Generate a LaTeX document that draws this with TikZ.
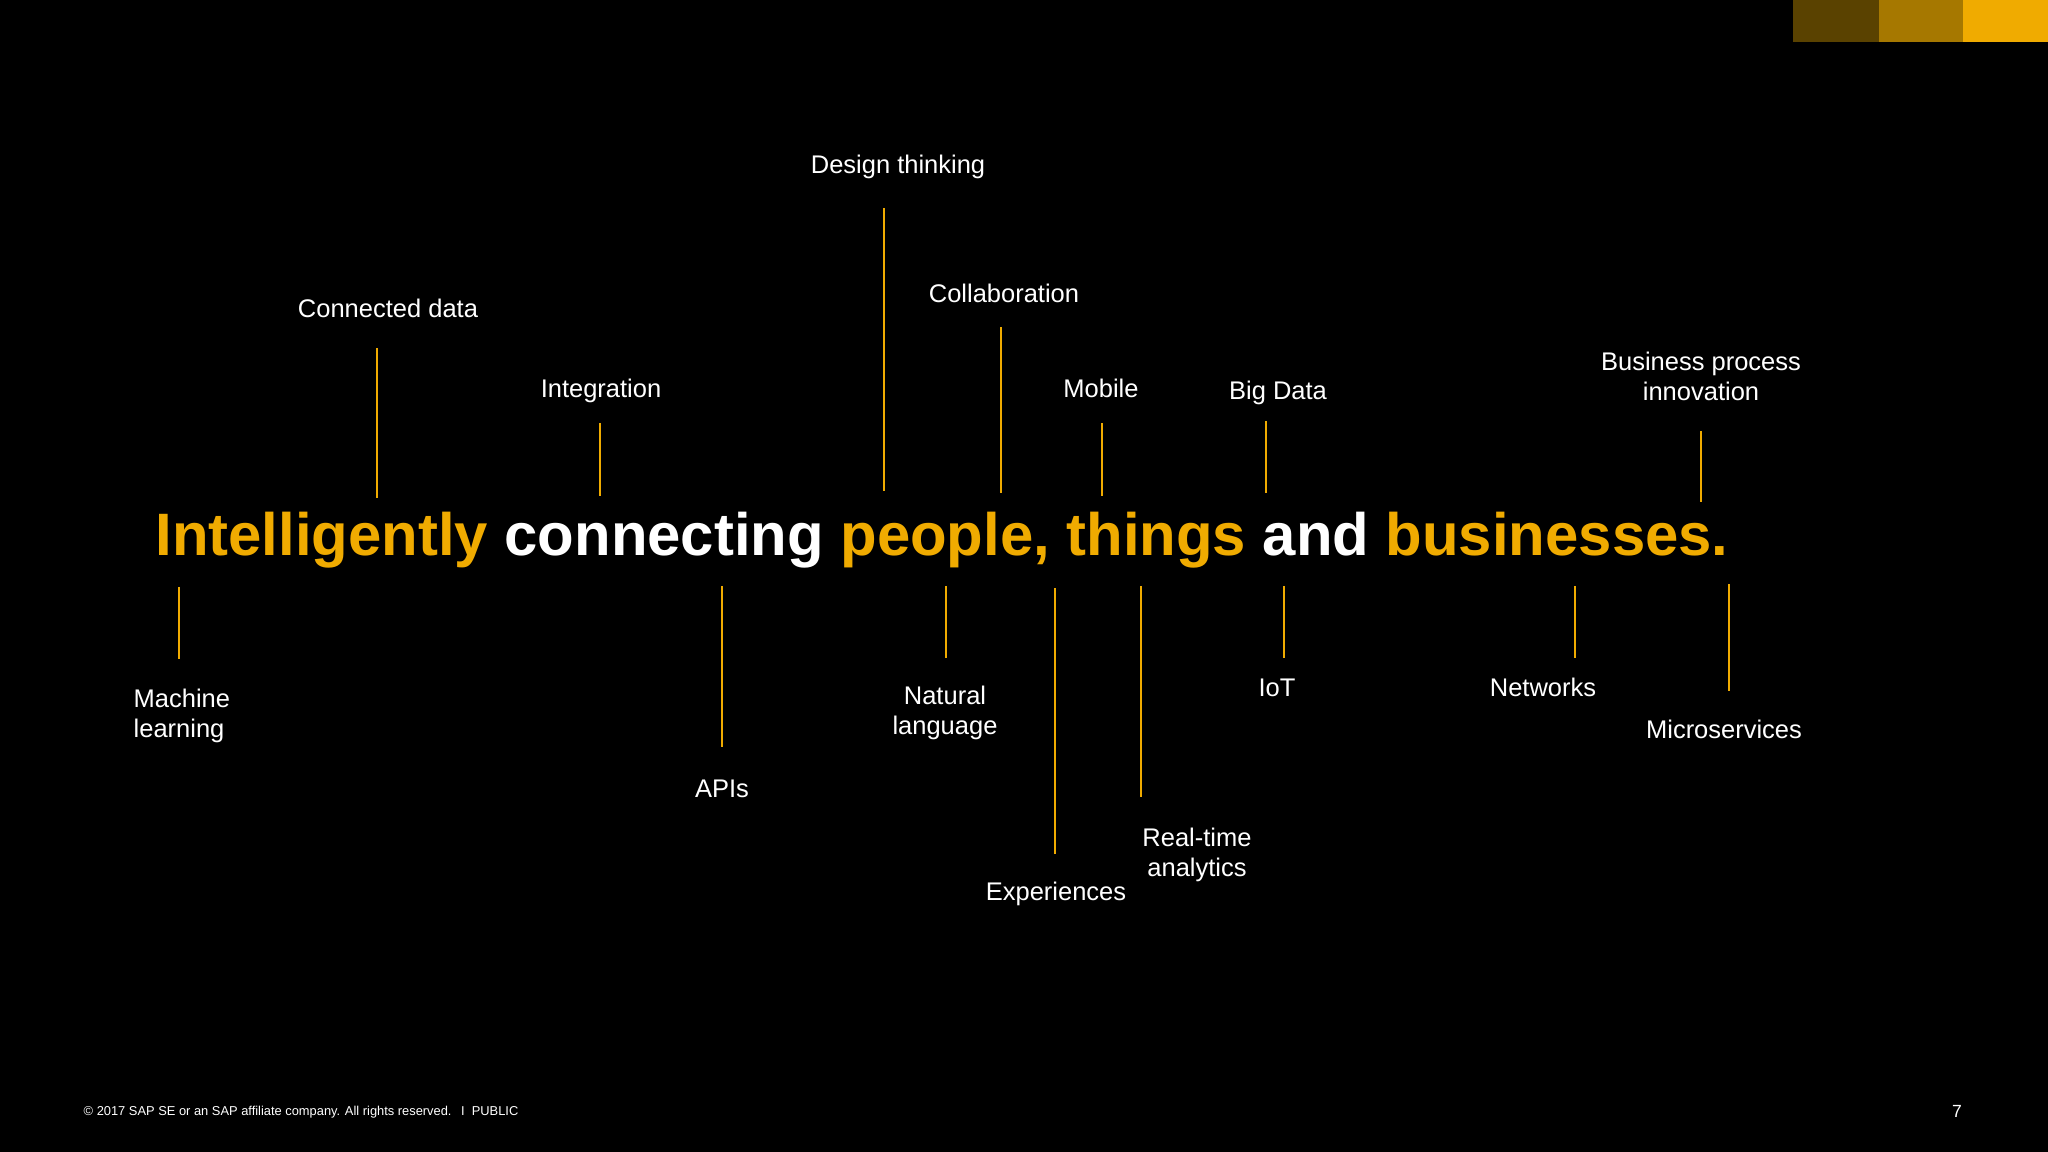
\documentclass[tikz,border=0pt]{standalone}
\usepackage{fontspec}
\setmainfont{Liberation Sans}
\definecolor{sapgold}{HTML}{F0AB00}
\definecolor{sapmid}{HTML}{A67800}
\definecolor{sapdark}{HTML}{5A4200}
\definecolor{bg}{HTML}{000000}
\begin{document}
\begin{tikzpicture}[x=0.01cm,y=-0.01cm,
  lbl/.style={text=white,font=\fontsize{7.25}{8.5}\selectfont,inner sep=0pt,anchor=base},
  lbltwo/.style={text=white,font=\fontsize{7.25}{8.5}\selectfont,inner sep=0pt,align=center,anchor=north},
  stem/.style={draw=sapgold,line width=0.55pt}]
% background
\fill[bg] (0,0) rectangle (2048,1152);
\useasboundingbox (0,0) rectangle (2048,1152);
% colour blocks
\fill[sapdark] (1793,0) rectangle (1879,42);
\fill[sapmid] (1879,0) rectangle (1963,42);
\fill[sapgold] (1963,0) rectangle (2048,42);
% headline
\node[inner sep=0pt,anchor=base,text=white,font=\bfseries\fontsize{17.02}{20}\selectfont] (head) at (942,556)
  {{\color{sapgold}Intelligently} connecting {\color{sapgold}people, things} and {\color{sapgold}businesses.}};
% top labels
\node[lbl] (dt) at (898,174) {Design thinking};
\node[lbl] (cd) at (388,318) {Connected data};
\node[lbl] (int) at (601,398) {Integration};
\node[lbl] (col) at (1004,303) {Collaboration};
\node[lbl] (mob) at (1101,398) {Mobile};
\node[lbl] (bd) at (1278,400) {Big Data};
\node[lbltwo] (bpi) at (1701,351) {Business process\\innovation};
% bottom labels
\node[lbltwo,align=left,anchor=north west] (ml) at (133,688) {Machine\\learning};
\node[lbl] (api) at (722,797) {APIs};
\node[lbltwo] (nl) at (945,685) {Natural\\language};
\node[lbl] (exp) at (1056,900) {Experiences};
\node[lbltwo] (rt) at (1197,827) {Real-time\\analytics};
\node[lbl] (iot) at (1277,696) {IoT};
\node[lbl] (net) at (1543,696) {Networks};
\node[lbl] (mic) at (1724,738) {Microservices};
% stem end points
\coordinate (dt1) at (884,208); \coordinate (dt2) at (884,491);
\coordinate (cd1) at (377,348); \coordinate (cd2) at (377,498);
\coordinate (int1) at (600,423); \coordinate (int2) at (600,496);
\coordinate (col1) at (1001,327); \coordinate (col2) at (1001,493);
\coordinate (mob1) at (1102,423); \coordinate (mob2) at (1102,496);
\coordinate (bd1) at (1266,421); \coordinate (bd2) at (1266,493);
\coordinate (bpi1) at (1701,431); \coordinate (bpi2) at (1701,502);
\coordinate (ml1) at (179,587); \coordinate (ml2) at (179,659);
\coordinate (api1) at (722,586); \coordinate (api2) at (722,747);
\coordinate (nl1) at (946,586); \coordinate (nl2) at (946,658);
\coordinate (exp1) at (1055,588); \coordinate (exp2) at (1055,854);
\coordinate (rt1) at (1141,586); \coordinate (rt2) at (1141,797);
\coordinate (iot1) at (1284,586); \coordinate (iot2) at (1284,658);
\coordinate (net1) at (1575,586); \coordinate (net2) at (1575,658);
\coordinate (mic1) at (1729,584); \coordinate (mic2) at (1729,691);
\foreach \s in {dt,cd,int,col,mob,bd,bpi,ml,api,nl,exp,rt,iot,net,mic}
  \draw[stem] (\s1) -- (\s2);
% footer
\node[inner sep=0pt,anchor=base west,text=white,font=\fontsize{3.66}{4.5}\selectfont] (foot) at (83,1115)
  {\textcopyright{} 2017 SAP SE or an SAP affiliate company. All rights reserved.\hspace{0.75em}I\hspace{0.55em}PUBLIC};
\node[inner sep=0pt,anchor=base,text=white,font=\fontsize{5}{6}\selectfont] (pg) at (1957,1117) {7};
\end{tikzpicture}
\end{document}
